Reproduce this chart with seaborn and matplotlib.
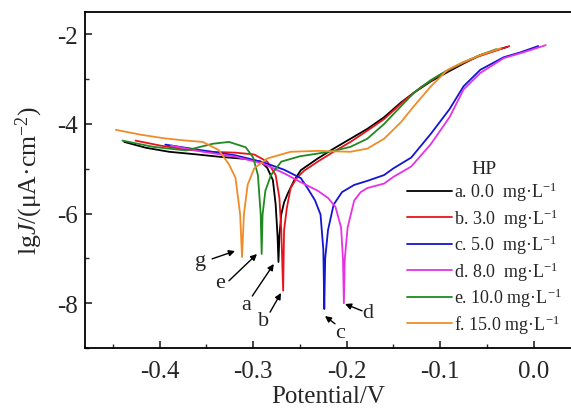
import matplotlib
matplotlib.use("Agg")
import matplotlib.pyplot as plt
import seaborn as sns
import pandas as pd

# ---- data ----
a_E = [-0.438, -0.415, -0.390, -0.360, -0.337, -0.308, -0.292, -0.285, -0.279, -0.276, -0.274, -0.273,
       -0.272, -0.270, -0.267, -0.263, -0.256, -0.249, -0.231, -0.214, -0.196, -0.178, -0.160, -0.142,
       -0.128, -0.110, -0.092, -0.075, -0.057, -0.040, -0.028]
a_J = [-4.40, -4.53, -4.62, -4.68, -4.73, -4.78, -4.84, -4.98, -5.25, -5.80, -6.50, -7.08,
       -6.50, -6.02, -5.75, -5.55, -5.25, -5.03, -4.77, -4.55, -4.33, -4.11, -3.85, -3.52,
       -3.30, -3.05, -2.84, -2.65, -2.46, -2.35, -2.28]

b_E = [-0.426, -0.400, -0.372, -0.345, -0.319, -0.299, -0.285, -0.276, -0.272, -0.270, -0.268, -0.267,
       -0.264, -0.260, -0.254, -0.246, -0.231, -0.214, -0.196, -0.178, -0.160, -0.139, -0.120, -0.100,
       -0.080, -0.060, -0.040, -0.026]
b_J = [-4.37, -4.48, -4.57, -4.62, -4.64, -4.68, -4.84, -5.14, -5.65, -6.37, -7.72, -6.37,
       -5.87, -5.43, -5.22, -5.05, -4.84, -4.62, -4.40, -4.15, -3.89, -3.49, -3.17, -2.90,
       -2.68, -2.50, -2.36, -2.26]

c_E = [-0.394, -0.354, -0.319, -0.290, -0.267, -0.249, -0.242, -0.234, -0.228, -0.225, -0.224, -0.223,
       -0.220, -0.214, -0.205, -0.192, -0.178, -0.160, -0.150, -0.131, -0.110, -0.090, -0.075, -0.057,
       -0.032, -0.014, 0.005]
c_J = [-4.46, -4.59, -4.70, -4.85, -5.02, -5.21, -5.43, -5.70, -6.02, -6.80, -8.13, -7.00,
       -6.37, -5.80, -5.52, -5.36, -5.27, -5.14, -4.99, -4.75, -4.22, -3.67, -3.16, -2.79,
       -2.51, -2.40, -2.26]

d_E = [-0.388, -0.354, -0.319, -0.290, -0.267, -0.249, -0.231, -0.220, -0.212, -0.206, -0.204, -0.203,
       -0.202, -0.199, -0.192, -0.185, -0.178, -0.160, -0.150, -0.131, -0.110, -0.090, -0.075, -0.057,
       -0.032, -0.011, 0.013]
d_J = [-4.48, -4.62, -4.73, -4.88, -5.10, -5.30, -5.49, -5.65, -5.85, -6.31, -7.00, -8.00,
       -7.00, -6.31, -5.71, -5.52, -5.43, -5.33, -5.18, -4.95, -4.45, -3.85, -3.23, -2.86,
       -2.53, -2.40, -2.24]

e_E = [-0.440, -0.407, -0.372, -0.343, -0.326, -0.308, -0.300, -0.295, -0.292, -0.291, -0.290, -0.287,
       -0.281, -0.270, -0.250, -0.231, -0.214, -0.196, -0.178, -0.160, -0.145, -0.128, -0.110, -0.092,
       -0.075, -0.058, -0.040]
e_J = [-4.37, -4.51, -4.59, -4.44, -4.40, -4.52, -4.75, -5.14, -6.02, -6.90, -6.02, -5.49,
       -5.14, -4.84, -4.72, -4.66, -4.60, -4.51, -4.33, -4.00, -3.67, -3.30, -3.02, -2.80,
       -2.62, -2.47, -2.33]

f_E = [-0.447, -0.420, -0.395, -0.372, -0.354, -0.337, -0.326, -0.319, -0.314, -0.312, -0.310, -0.306,
       -0.299, -0.285, -0.260, -0.231, -0.196, -0.178, -0.160, -0.142, -0.128, -0.110, -0.092, -0.075,
       -0.058, -0.035]
f_J = [-4.13, -4.24, -4.32, -4.37, -4.40, -4.58, -4.90, -5.20, -6.02, -6.97, -6.02, -5.36,
       -4.99, -4.77, -4.62, -4.60, -4.62, -4.55, -4.33, -3.96, -3.60, -3.16, -2.79, -2.62,
       -2.47, -2.31]

series_labels = [r"a. 0.0  mg·L$^{-1}$", r"b. 3.0  mg·L$^{-1}$", r"c. 5.0  mg·L$^{-1}$",
                 r"d. 8.0  mg·L$^{-1}$", r"e. 10.0 mg·L$^{-1}$", r"f. 15.0 mg·L$^{-1}$"]
series_E = [a_E, b_E, c_E, d_E, e_E, f_E]
series_J = [a_J, b_J, c_J, d_J, e_J, f_J]
colors = ["#000000", "#e8141c", "#1414d2", "#e632e6", "#1f8a1f", "#f08c28"]

x_ticks = [-0.4, -0.3, -0.2, -0.1, 0.0]
y_ticks = [-8, -6, -4, -2]

# point labels: (text, text E, text lgJ, arrow start E, arrow start lgJ, tip E, tip lgJ)
point_labels = [("g", -0.356, -7.05, -0.344, -7.01, -0.3195, -6.835),
                ("e", -0.336, -7.53, -0.326, -7.50, -0.296, -6.902),
                ("a", -0.308, -8.04, -0.301, -7.84, -0.278, -7.125),
                ("b", -0.2885, -8.38, -0.282, -8.20, -0.2703, -7.772),
                ("c", -0.207, -8.66, -0.2125, -8.46, -0.2232, -8.286),
                ("d", -0.177, -8.20, -0.1836, -8.17, -0.2018, -8.018)]

# ---- build table ----
rows = []
for lab, E, J in zip(series_labels, series_E, series_J):
    for e, j in zip(E, J):
        rows.append({"E": e, "lgJ": j, "series": lab})
df = pd.DataFrame(rows)

sns.set_theme(style="ticks")
plt.rcParams["font.family"] = ["Liberation Serif", "DejaVu Serif"]
plt.rcParams["mathtext.fontset"] = "custom"
plt.rcParams["mathtext.rm"] = "Liberation Serif"
plt.rcParams["mathtext.it"] = "Liberation Serif:italic"
plt.rcParams["axes.unicode_minus"] = False

fig = plt.figure(figsize=(5.71, 4.10), dpi=100)
ax = fig.add_axes([85 / 571, 1 - 349 / 410, 486 / 571, 336 / 410])

sns.lineplot(data=df, x="E", y="lgJ", hue="series", hue_order=series_labels,
             palette=colors, sort=False, estimator=None, linewidth=1.3, ax=ax)

ax.set_xlim(-0.48, 0.04)
ax.set_ylim(-9, -1.5)
ax.set_xticks(x_ticks)
ax.set_xticklabels([f"{t:.1f}" for t in x_ticks])
ax.set_yticks(y_ticks)
ax.set_yticklabels([str(t) for t in y_ticks])
ax.set_xticks([-0.45, -0.35, -0.25, -0.15, -0.05], minor=True)
ax.set_yticks([-9, -7, -5, -3], minor=True)
ax.tick_params(which="major", direction="in", length=5, width=1.2, labelsize=18)
ax.tick_params(axis="x", which="major", pad=9)
ax.tick_params(axis="y", which="major", pad=5)
ax.tick_params(which="minor", direction="in", length=3, width=1.0)
for s in ["left", "bottom", "top"]:
    ax.spines[s].set_linewidth(1.3)
    ax.spines[s].set_color("black")
ax.spines["right"].set_visible(False)

ax.set_xlabel("Potential/V", fontsize=18, labelpad=2)
ax.set_ylabel(r"lg$J$/(μA·cm$^{-2}$)", fontsize=18.5)
ax.yaxis.set_label_coords(-0.083, 0.5)

handles, labels = ax.get_legend_handles_labels()
leg = ax.legend(handles, labels, title="HP", frameon=False, loc="upper left",
                bbox_to_anchor=(0.6626, 0.56), fontsize=13, title_fontsize=14,
                handlelength=2.5, handletextpad=0.08, labelspacing=0.17, borderpad=0.0,
                borderaxespad=0.0)

for txt, lx, ly, sx, sy, tx, ty in point_labels:
    ax.text(lx, ly, txt, ha="center", va="center", fontsize=16)
    ax.annotate("", xy=(tx, ty), xytext=(sx, sy),
                arrowprops=dict(arrowstyle="-|>", color="black", lw=1.0, mutation_scale=9,
                                shrinkA=0, shrinkB=0))

fig.savefig("out.png", dpi=100)
